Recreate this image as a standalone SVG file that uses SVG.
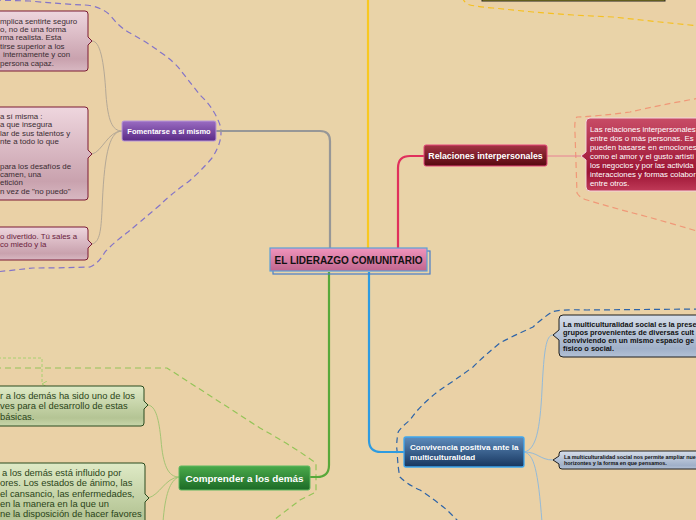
<svg xmlns="http://www.w3.org/2000/svg" width="696" height="520" viewBox="0 0 696 520">
<defs>
<linearGradient id="gPurple" x1="0" y1="0" x2="0" y2="1"><stop offset="0" stop-color="#9A6CC2"/><stop offset="1" stop-color="#5A2A86"/></linearGradient>
<linearGradient id="gRed" x1="0" y1="0" x2="0" y2="1"><stop offset="0" stop-color="#A43444"/><stop offset="1" stop-color="#560810"/></linearGradient>
<linearGradient id="gCentral" x1="0" y1="0" x2="0" y2="1"><stop offset="0" stop-color="#F094BC"/><stop offset="1" stop-color="#C0668E"/></linearGradient>
<linearGradient id="gGreen" x1="0" y1="0" x2="0" y2="1"><stop offset="0" stop-color="#4AAA4A"/><stop offset="1" stop-color="#1C6A26"/></linearGradient>
<linearGradient id="gBlue" x1="0" y1="0" x2="0" y2="1"><stop offset="0" stop-color="#5E8CBC"/><stop offset="1" stop-color="#17365F"/></linearGradient>
<linearGradient id="gPinkBox" x1="0" y1="0" x2="0" y2="1"><stop offset="0" stop-color="#EED6DE"/><stop offset="0.8" stop-color="#C9A2AE"/><stop offset="1" stop-color="#D8B8C2"/></linearGradient>
<linearGradient id="gRedBox" x1="0" y1="0" x2="0" y2="1"><stop offset="0" stop-color="#C84C66"/><stop offset="0.75" stop-color="#9C1434"/><stop offset="1" stop-color="#C03A58"/></linearGradient>
<linearGradient id="gGreenBox" x1="0" y1="0" x2="0" y2="1"><stop offset="0" stop-color="#DFEAC6"/><stop offset="0.8" stop-color="#B4C494"/><stop offset="1" stop-color="#C8D6AA"/></linearGradient>
<linearGradient id="gBlueBox" x1="0" y1="0" x2="0" y2="1"><stop offset="0" stop-color="#D6DEEA"/><stop offset="0.8" stop-color="#A0B0C8"/><stop offset="1" stop-color="#B4C2D6"/></linearGradient>
<marker id="arrG" viewBox="0 0 6 6" refX="3" refY="5" markerWidth="6" markerHeight="6" orient="auto-start-reverse" markerUnits="userSpaceOnUse"><path d="M0,0 L3,5 L6,0" fill="none" stroke="#A8D070" stroke-width="1"/></marker>
</defs>
<style>
.bound{fill:#EDCDA2;fill-opacity:0.35;stroke-width:1.2;stroke-dasharray:6 4}
.main{fill:none;stroke-width:2.2}
.sub{fill:none;stroke-width:1}
.nt{font-family:"Liberation Sans",Arial,sans-serif;font-weight:bold;fill:#FFFFFF}
.bt{font-family:"Liberation Sans",Arial,sans-serif}
</style>
<rect x="0" y="0" width="696" height="520" fill="#E9D3A8"/>

<g id="boundaries">
<path class="bound" stroke="#8474C8" d="M -5,0 L 30,1 Q 60,4 85,5 Q 100,6 110,15 Q 120,28 130,33 Q 150,44 160,52 Q 175,62 182,72 Q 192,85 200,95 Q 214,108 220,125 Q 224,140 212,158 Q 200,172 188,182 Q 170,195 160,205 Q 140,222 128,232 Q 112,244 105,252 Q 98,264 90,267 Q 60,268 33,268 Q 15,270 -5,272 Z"/>
<path class="bound" stroke="#F5C020" d="M 462,-3 Q 465,4 470,5 Q 480,7 493,8 L 533,12 L 573,15 L 613,17 L 660,22 L 700,26 L 700,-3 Z"/>
<path class="bound" stroke="#F09878" d="M 700,98 Q 660,105 630,112 Q 600,116 577,117 Q 574,120 575,133 L 577,193 Q 580,198 587,200 Q 610,207 633,213 Q 660,220 700,232 Z"/>
<path class="bound" stroke="#2E64A8" d="M 700,309 L 587,310 Q 560,309 552,312 Q 540,320 533,327 Q 515,335 500,343 Q 485,355 473,367 Q 455,380 440,390 Q 420,405 410,420 Q 398,430 398,433 Q 396,445 397,450 Q 398,470 400,477 Q 408,485 420,490 Q 435,500 447,510 L 460,523 L 700,523 Z"/>
<path class="bound" stroke="#94C458" d="M -5,368 L 167,368 L 260,428 Q 285,442 300,452 L 316,463 L 316,492 L 300,500 L 270,523 L -5,523 Z"/>
</g>

<g id="connectors">
<path class="main" stroke="#979797" d="M 216,131 H 320 Q 330,131 330,141 V 249"/>
<path class="main" stroke="#F8C820" d="M 368,-2 V 249"/>
<path class="main" stroke="#E0305C" d="M 398,249 V 168 Q 398,156 410,156 H 424"/>
<path class="main" stroke="#58A83A" d="M 329,272 V 465 Q 329,477 317,477 H 310"/>
<path class="main" stroke="#2E9BE0" d="M 369,272 V 440 Q 369,452 381,452 H 404"/>
<path class="sub" stroke="#B4A896" d="M 92,41 C 100,41 104,60 106,95 C 108,120 112,131 122,131"/>
<path class="sub" stroke="#B4A896" d="M 92,154 C 102,152 108,131 122,131"/>
<path class="sub" stroke="#B4A896" d="M 92,244 C 100,242 101,230 102,210 C 104,160 108,131 122,131"/>
<path class="sub" stroke="#E88094" stroke-width="1.5" d="M 547,156 H 581"/>
<path class="sub" stroke="#A4C474" d="M 148,405 C 156,406 159,420 161,440 C 163,465 168,477 179,477"/>
<path class="sub" stroke="#A4C474" d="M 148,498 C 160,495 165,478 179,477"/>
<path class="sub" stroke="#A4C474" d="M 179,477 C 170,480 165,495 163,522"/>
<path class="sub" stroke="#94BAD8" d="M 524,452 C 536,450 540,430 542,390 C 544,350 546,335 553,335"/>
<path class="sub" stroke="#94BAD8" d="M 524,452 C 538,452 540,460 553,460"/>
<path class="sub" stroke="#94BAD8" d="M 524,452 C 534,454 538,470 542,522"/>
<path fill="none" stroke="#A8D070" stroke-width="1" stroke-dasharray="3 2" marker-end="url(#arrG)" d="M -2,358 H 42 V 384"/>
</g>

<g id="node-top">
<rect x="482" y="-10" width="183" height="11" fill="#A09818" stroke="#222" stroke-width="1"/>
</g>

<g id="node-central">
<rect x="273" y="251" width="157" height="23" fill="none" stroke="#4A7EC8" stroke-width="1.2"/>
<rect x="270" y="248" width="157" height="23" fill="url(#gCentral)" stroke="#5AA0D8" stroke-width="1.2"/>
<text class="nt" x="348.5" y="263.5" text-anchor="middle" font-size="10" style="fill:#111">EL LIDERAZGO COMUNITARIO</text>
</g>

<g id="node-fomentarse">
<rect x="122" y="121" width="94" height="20" rx="2" fill="url(#gPurple)" stroke="#B898D8" stroke-width="1"/>
<text class="nt" x="169" y="134" text-anchor="middle" font-size="7.5">Fomentarse a sí mismo</text>
</g>

<g id="node-relaciones">
<rect x="424" y="145" width="123" height="21" rx="2" fill="url(#gRed)" stroke="#E4467A" stroke-width="1"/>
<text class="nt" x="485.5" y="159" text-anchor="middle" font-size="8.8">Relaciones interpersonales</text>
</g>

<g id="node-comprender">
<rect x="179" y="466" width="131" height="24" rx="2" fill="url(#gGreen)" stroke="#5EB85E" stroke-width="1"/>
<text class="nt" x="244.5" y="481.5" text-anchor="middle" font-size="9.9">Comprender a los demás</text>
</g>

<g id="node-convivencia">
<rect x="404" y="437" width="120" height="30" rx="2" fill="url(#gBlue)" stroke="#3EA6EE" stroke-width="1.3"/>
<text class="nt" x="410" y="450" font-size="8.1">Convivencia positiva ante la</text>
<text class="nt" x="410" y="459.5" font-size="8.1">multiculturalidad</text>
</g>

<g id="note-pink-1">
<path d="M -5,11 H 85 Q 88,11 88,14 V 37 L 92,41 L 88,45 V 68 Q 88,71 85,71 H -5 Z" fill="url(#gPinkBox)" stroke="#7A1A34" stroke-width="1"/>
<g class="bt" font-size="7.9" fill="#3A2C32">
<text x="0" y="23.5">mplica sentirte seguro</text>
<text x="0" y="31.9">o, no de una forma</text>
<text x="0" y="40.3">rma realista. Esta</text>
<text x="0" y="48.7">tirse superior a los</text>
<text x="3" y="57.1">internamente y con</text>
<text x="0" y="65.5">persona capaz.</text>
</g>
</g>

<g id="note-pink-2">
<path d="M -5,107 H 85 Q 88,107 88,110 V 150 L 92,154 L 88,158 V 197 Q 88,200 85,200 H -5 Z" fill="url(#gPinkBox)" stroke="#7A1A34" stroke-width="1"/>
<g class="bt" font-size="7.9" fill="#3A2C32">
<text x="0" y="119">a sí misma :</text>
<text x="0" y="127.4">a que insegura</text>
<text x="0" y="135.8">lar de sus talentos y</text>
<text x="0" y="144.2">nte a todo lo que</text>
<text x="0" y="168.5">para los desafíos de</text>
<text x="0" y="176.9">camen, una</text>
<text x="0" y="185.3">etición</text>
<text x="0" y="193.7">n vez de "no puedo"</text>
</g>
</g>

<g id="note-pink-3">
<path d="M -5,227 H 85 Q 88,227 88,230 V 240 L 92,244 L 88,248 V 257 Q 88,260 85,260 H -5 Z" fill="url(#gPinkBox)" stroke="#7A1A34" stroke-width="1"/>
<g class="bt" font-size="7.9" fill="#6A1C3C">
<text x="0" y="238.5">o divertido. Tú sales a</text>
<text x="0" y="247">co miedo y la</text>
</g>
</g>

<g id="note-relaciones">
<path d="M 590,118 H 702 V 191 H 590 Q 586,191 586,187 V 160 L 581,156 L 586,152 V 122 Q 586,118 590,118 Z" fill="url(#gRedBox)" stroke="#F4D4DC" stroke-width="1"/>
<g class="bt" font-size="7.8" fill="#FFFFFF">
<text x="590" y="131.5">Las relaciones interpersonales</text>
<text x="590" y="140.5">entre dos o más personas. Es</text>
<text x="590" y="149.5">pueden basarse en emociones</text>
<text x="590" y="158.5">como el amor y el gusto artísti</text>
<text x="590" y="167.5">los negocios y por las activida</text>
<text x="590" y="176.5">interacciones y formas colabor</text>
<text x="590" y="185.5">entre otros.</text>
</g>
</g>

<g id="note-green-1">
<path d="M -5,386 H 141 Q 144,386 144,389 V 401 L 148,405 L 144,409 V 423 Q 144,426 141,426 H -5 Z" fill="url(#gGreenBox)" stroke="#2A4A1E" stroke-width="1"/>
<g class="bt" font-size="9.4" fill="#2A4418">
<text x="0" y="398.5">r a los demás ha sido uno de los</text>
<text x="0" y="409">ves para el desarrollo de estas</text>
<text x="0" y="419.5">básicas.</text>
</g>
</g>

<g id="note-green-2">
<path d="M -5,463 H 142 Q 145,463 145,466 V 494 L 149,498 L 145,502 V 530 H -5 Z" fill="url(#gGreenBox)" stroke="#2A4A1E" stroke-width="1"/>
<g class="bt" font-size="9.4" fill="#2A4418">
<text x="2" y="476">a los demás está influido por</text>
<text x="0" y="486.3">ores. Los estados de ánimo, las</text>
<text x="0" y="496.6">el cansancio, las enfermedades,</text>
<text x="0" y="506.9">en la manera en la que un</text>
<text x="0" y="517.2">ne la disposición de hacer favores</text>
</g>
</g>

<g id="note-blue-1">
<path d="M 563,315 H 702 V 357 H 563 Q 559,357 559,353 V 340 L 553,335 L 559,330 V 319 Q 559,315 563,315 Z" fill="url(#gBlueBox)" stroke="#1E1E1E" stroke-width="1"/>
<g class="bt" font-size="7.4" font-weight="bold" fill="#111">
<text x="563" y="326.5">La multiculturalidad social es la prese</text>
<text x="563" y="334.8">grupos provenientes de diversas cult</text>
<text x="563" y="343.1">conviviendo en un mismo espacio ge</text>
<text x="563" y="351.4">físico o social.</text>
</g>
</g>

<g id="note-blue-2">
<path d="M 562,451 H 702 V 469 H 562 Q 559,469 559,466 V 464 L 553,460 L 559,456 V 454 Q 559,451 562,451 Z" fill="url(#gBlueBox)" stroke="#1E1E1E" stroke-width="1"/>
<g class="bt" font-size="5.4" font-weight="bold" fill="#111">
<text x="564" y="458.7">La multiculturalidad social nos permite ampliar nue</text>
<text x="564" y="464.7">horizontes y la forma en que pensamos.</text>
</g>
</g>
</svg>
